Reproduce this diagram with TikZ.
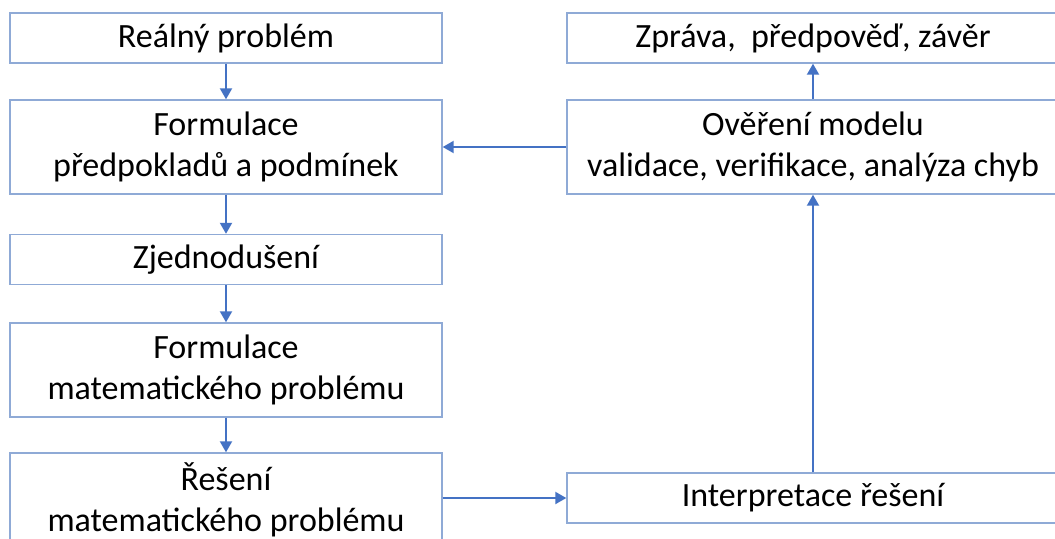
\documentclass[tikz,border=0pt]{standalone}
\usepackage{fontspec}
\setmainfont{Carlito}
\usetikzlibrary{arrows.meta}
\definecolor{boxline}{RGB}{143,170,214}
\definecolor{arrowblue}{RGB}{68,114,196}

\begin{document}
\begin{tikzpicture}[x=0.5pt,y=-0.5pt,
  box/.style={draw=boxline, line width=0.7pt, fill=white, align=center, inner sep=0pt,
    font=\fontsize{17}{20.5}\selectfont, minimum width=216pt, minimum height=25pt},
  tall/.style={box, minimum height=47pt},
  wide/.style={minimum width=246pt},
  conn/.style={draw=arrowblue, line width=1pt, -{Triangle[length=5.5pt,width=6pt]}}]
\fill[white] (0,0) rectangle (1055,538);
\clip (0,0) rectangle (1055,538);

% left column
\node[box] (real) at (226,38) {Reálný problém};
\node[tall] (form1) at (226,147) {Formulace\\předpokladů a podmínek};
\node[box] (zjed) at (226,259.5) {Zjednodušení};
\node[tall] (form2) at (226,370) {Formulace\\matematického problému};
\node[tall] (res) at (226,500) {Řešení\\matematického problému};

% right column
\node[box,wide] (zprava) at (813,38) {Zpráva,~ předpověď, závěr};
\node[tall,wide] (over) at (813,147) {Ověření modelu\\validace, verifikace, analýza chyb};
\node[box,wide] (interp) at (813,498) {Interpretace řešení};

\draw[conn] (real) -- (form1);
\draw[conn] (form1) -- (zjed);
\draw[conn] (zjed) -- (form2);
\draw[conn] (form2) -- (res);
\draw[conn] (res.east |- interp) -- (interp);
\draw[conn] (interp) -- (over);
\draw[conn] (over) -- (zprava);
\draw[conn] (over) -- (form1);
\end{tikzpicture}
\end{document}
